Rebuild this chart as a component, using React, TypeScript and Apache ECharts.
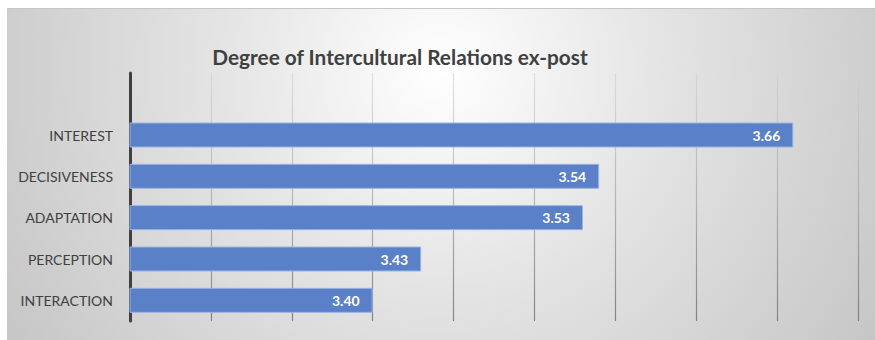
import React, { useEffect, useRef } from "react";
import * as echarts from "echarts";

const title = "Degree of Intercultural Relations ex-post";
const categories = ["INTEREST", "DECISIVENESS", "ADAPTATION", "PERCEPTION", "INTERACTION"];
const values = [3.66, 3.54, 3.53, 3.43, 3.4];
const axisMin = 3.25;
const axisMax = 3.7;
const axisInterval = 0.05;

export default function App() {
  const ref = useRef<HTMLDivElement>(null);
  useEffect(() => {
    if (!ref.current) return;
    const chart = echarts.init(ref.current, undefined, { renderer: "svg" });
    const font = "Lato, 'Open Sans', sans-serif";
    chart.setOption({
      animation: false,
      backgroundColor: "transparent",
      title: {
        text: title,
        left: 388,
        top: 32,
        textAlign: "center",
        textStyle: { fontFamily: font, fontSize: 20.8, fontWeight: "bold", color: "#404040" },
      },
      grid: { left: 123, right: 17, top: 64, bottom: 19, containLabel: false },
      xAxis: {
        type: "value",
        min: axisMin,
        max: axisMax,
        interval: axisInterval,
        axisLabel: { show: false },
        axisLine: { show: false },
        axisTick: { show: false },
        splitLine: {
          show: true,
          lineStyle: {
            width: 1.2,
            color: {
              type: "linear",
              global: true,
              x: 0,
              y: 64,
              x2: 0,
              y2: 312,
              colorStops: [
                { offset: 0, color: "rgba(205,205,205,0.55)" },
                { offset: 1, color: "rgba(120,120,120,0.9)" },
              ],
            },
          },
        },
      },
      yAxis: {
        type: "category",
        inverse: true,
        data: ["", ...categories],
        axisLine: { show: true, lineStyle: { color: "#404040", width: 3 } },
        axisTick: { show: false },
        axisLabel: { fontFamily: font, fontSize: 14, color: "#404040", margin: 17 },
        splitLine: { show: false },
      },
      series: [
        {
          type: "bar",
          data: [null, ...values],
          barWidth: 25,
          itemStyle: { color: "#5a80c8", borderColor: "#9ab5e2", borderWidth: 1 },
          label: {
            show: true,
            position: "insideRight",
            distance: 13,
            formatter: (p: any) => Number(p.value).toFixed(2),
            fontFamily: font,
            fontSize: 14,
            fontWeight: "bold",
            color: "#ffffff",
          },
        },
      ],
    });
    return () => chart.dispose();
  }, []);
  return (
    <div
      style={{
        position: "absolute",
        left: 7,
        top: 8,
        width: 868,
        height: 332,
        boxSizing: "border-box",
        borderTop: "1px solid #c6c6c6",
        background: "radial-gradient(circle at 50% 18%, #ffffff 0%, #e6e6e6 40%, #c6c6c6 100%)",
      }}
    >
      <div ref={ref} style={{ width: 868, height: 331 }} />
    </div>
  );
}
